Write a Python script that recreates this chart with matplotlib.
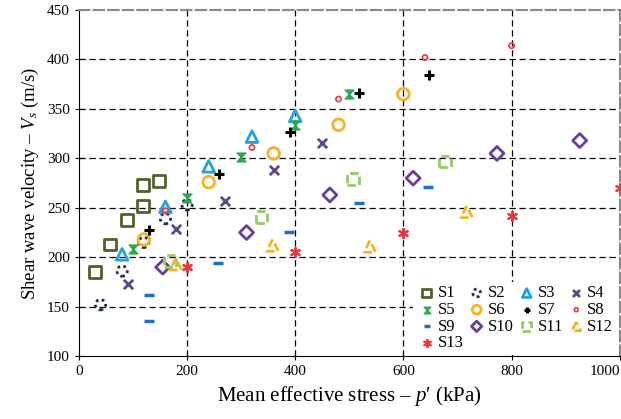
import matplotlib
matplotlib.use("Agg")
import matplotlib.pyplot as plt
from matplotlib.path import Path

plt.rcParams['font.family'] = ['Liberation Serif', 'DejaVu Serif']
plt.rcParams['mathtext.fontset'] = 'custom'
plt.rcParams['mathtext.rm'] = 'Liberation Serif'
plt.rcParams['mathtext.it'] = 'Liberation Serif:italic'

# data (p' in kPa, Vs in m/s)
s1_p = [30, 58, 89, 119, 119, 148]
s1_v = [185, 213, 238, 252, 273, 277]
s2_p = [40, 80, 120, 160, 200]
s2_v = [152, 186, 215, 239, 253]
s3_p = [80, 160, 240, 320, 400]
s3_v = [203, 251, 292, 322, 343]
s4_p = [90, 180, 270, 360, 450]
s4_v = [173, 229, 257, 288, 316]
s5_p = [100, 200, 300, 400, 500]
s5_v = [208, 260, 301, 334, 365]
s6_p = [120, 240, 360, 480, 600]
s6_v = [218, 276, 305, 334, 365]
s7_p = [130, 260, 390, 518, 648]
s7_v = [228, 284, 327, 366, 384]
s8_p = [160, 320, 480, 640, 800]
s8_v = [247, 311, 360, 402, 414]
s9_p = [129, 129, 258, 388, 517, 646]
s9_v = [162, 136, 194, 226, 255, 271]
s10_p = [155, 310, 464, 618, 773, 926]
s10_v = [190, 225, 263, 280, 305, 318]
s11_p = [168, 338, 507, 677]
s11_v = [196, 241, 279, 297]
s12_p = [179, 358, 538, 717]
s12_v = [193, 212, 211, 246]
s13_p = [200, 400, 600, 800, 1000]
s13_v = [190, 205, 225, 242, 270]

hourglass = Path([(-1, 1), (1, 1), (-1, -1), (1, -1), (-1, 1)],
                 [Path.MOVETO, Path.LINETO, Path.LINETO, Path.LINETO, Path.CLOSEPOLY])

fig = plt.figure(figsize=(6.21, 4.19), dpi=100)
ax = fig.add_axes([0.127, 0.150, 0.871, 0.826])

h = {}
h['S1'] = ax.scatter(s1_p, s1_v, s=70, marker='s', facecolors='none', edgecolors='#4f6228', linewidths=2, label='S1', zorder=3)
h['S2'] = ax.scatter(s2_p, s2_v, s=55, marker='o', facecolors='none', edgecolors='#1f2d50', linewidths=2, linestyles=(0, (1, 1.2)), label='S2', zorder=3)
h['S3'] = ax.scatter(s3_p, s3_v, s=70, marker='^', facecolors='none', edgecolors='#1fa3e3', linewidths=2, label='S3', zorder=3)
h['S4'] = ax.scatter(s4_p, s4_v, s=45, marker='x', color='#5b4a8a', linewidths=2, label='S4', zorder=3)
h['S5'] = ax.scatter(s5_p, s5_v, s=40, marker=hourglass, color='#2aa84a', label='S5', zorder=3)
h['S6'] = ax.scatter(s6_p, s6_v, s=70, marker='o', facecolors='none', edgecolors='#f7b322', linewidths=2, label='S6', zorder=3)
h['S7'] = ax.scatter(s7_p, s7_v, s=45, marker='+', color='black', linewidths=2.2, label='S7', zorder=3)
h['S8'] = ax.scatter(s8_p, s8_v, s=14, marker='o', facecolors='none', edgecolors='#e8383d', linewidths=1.2, label='S8', zorder=3)
h['S9'] = ax.scatter(s9_p, s9_v, s=45, marker='_', color='#2170c0', linewidths=2.5, label='S9', zorder=3)
h['S10'] = ax.scatter(s10_p, s10_v, s=50, marker='D', facecolors='none', edgecolors='#6a3d9a', linewidths=2, label='S10', zorder=3)
h['S11'] = ax.scatter(s11_p, s11_v, s=70, marker='s', facecolors='none', edgecolors='#92cc64', linewidths=2, linestyles=(0, (3, 1.5)), label='S11', zorder=3)
h['S12'] = ax.scatter(s12_p, s12_v, s=70, marker='^', facecolors='none', edgecolors='#f7b322', linewidths=2, linestyles=(0, (3, 1.5)), label='S12', zorder=3)
h['S13'] = ax.scatter(s13_p, s13_v, s=45, marker=(6, 2, 0), color='#e8383d', linewidths=1.5, label='S13', zorder=3)

ax.set_xlim(0, 1000)
ax.set_ylim(100, 450)
ax.set_xticks(range(0, 1001, 200))
ax.set_yticks(range(100, 451, 50))
ax.tick_params(direction='inout', length=6, labelsize=11)
ax.get_xticklabels()[-1].set_horizontalalignment('right')

for x in [200, 400, 600, 800]:
    ax.axvline(x, color='black', linestyle=(0, (5, 3)), linewidth=0.9, zorder=1)
for y in [150, 200, 250, 300, 350, 400]:
    ax.axhline(y, color='black', linestyle=(0, (5, 3)), linewidth=0.9, zorder=1)

for side in ['top', 'right']:
    ax.spines[side].set_color('#888888')
    ax.spines[side].set_linestyle((0, (5, 2)))
    ax.spines[side].set_linewidth(1.5)

ax.set_xlabel("Mean effective stress – $p$′ (kPa)", fontsize=15)
ax.set_ylabel("Shear wave velocity – $V_s$ (m/s)", fontsize=13.5)

# row-wise legend order (matplotlib fills columns first)
order = ['S1', 'S5', 'S9', 'S13', 'S2', 'S6', 'S10', 'S3', 'S7', 'S11', 'S4', 'S8', 'S12']
leg = ax.legend([h[k] for k in order], order, ncol=4, loc='lower right',
                bbox_to_anchor=(1.009, -0.02), fontsize=12, markerscale=0.75,
                frameon=True, fancybox=False, edgecolor='none', facecolor='white', framealpha=1,
                handletextpad=0.05, columnspacing=0.2, labelspacing=0.04, handlelength=1.2,
                borderpad=0.2)
leg.set_zorder(2)

fig.savefig('out.png', dpi=100)
